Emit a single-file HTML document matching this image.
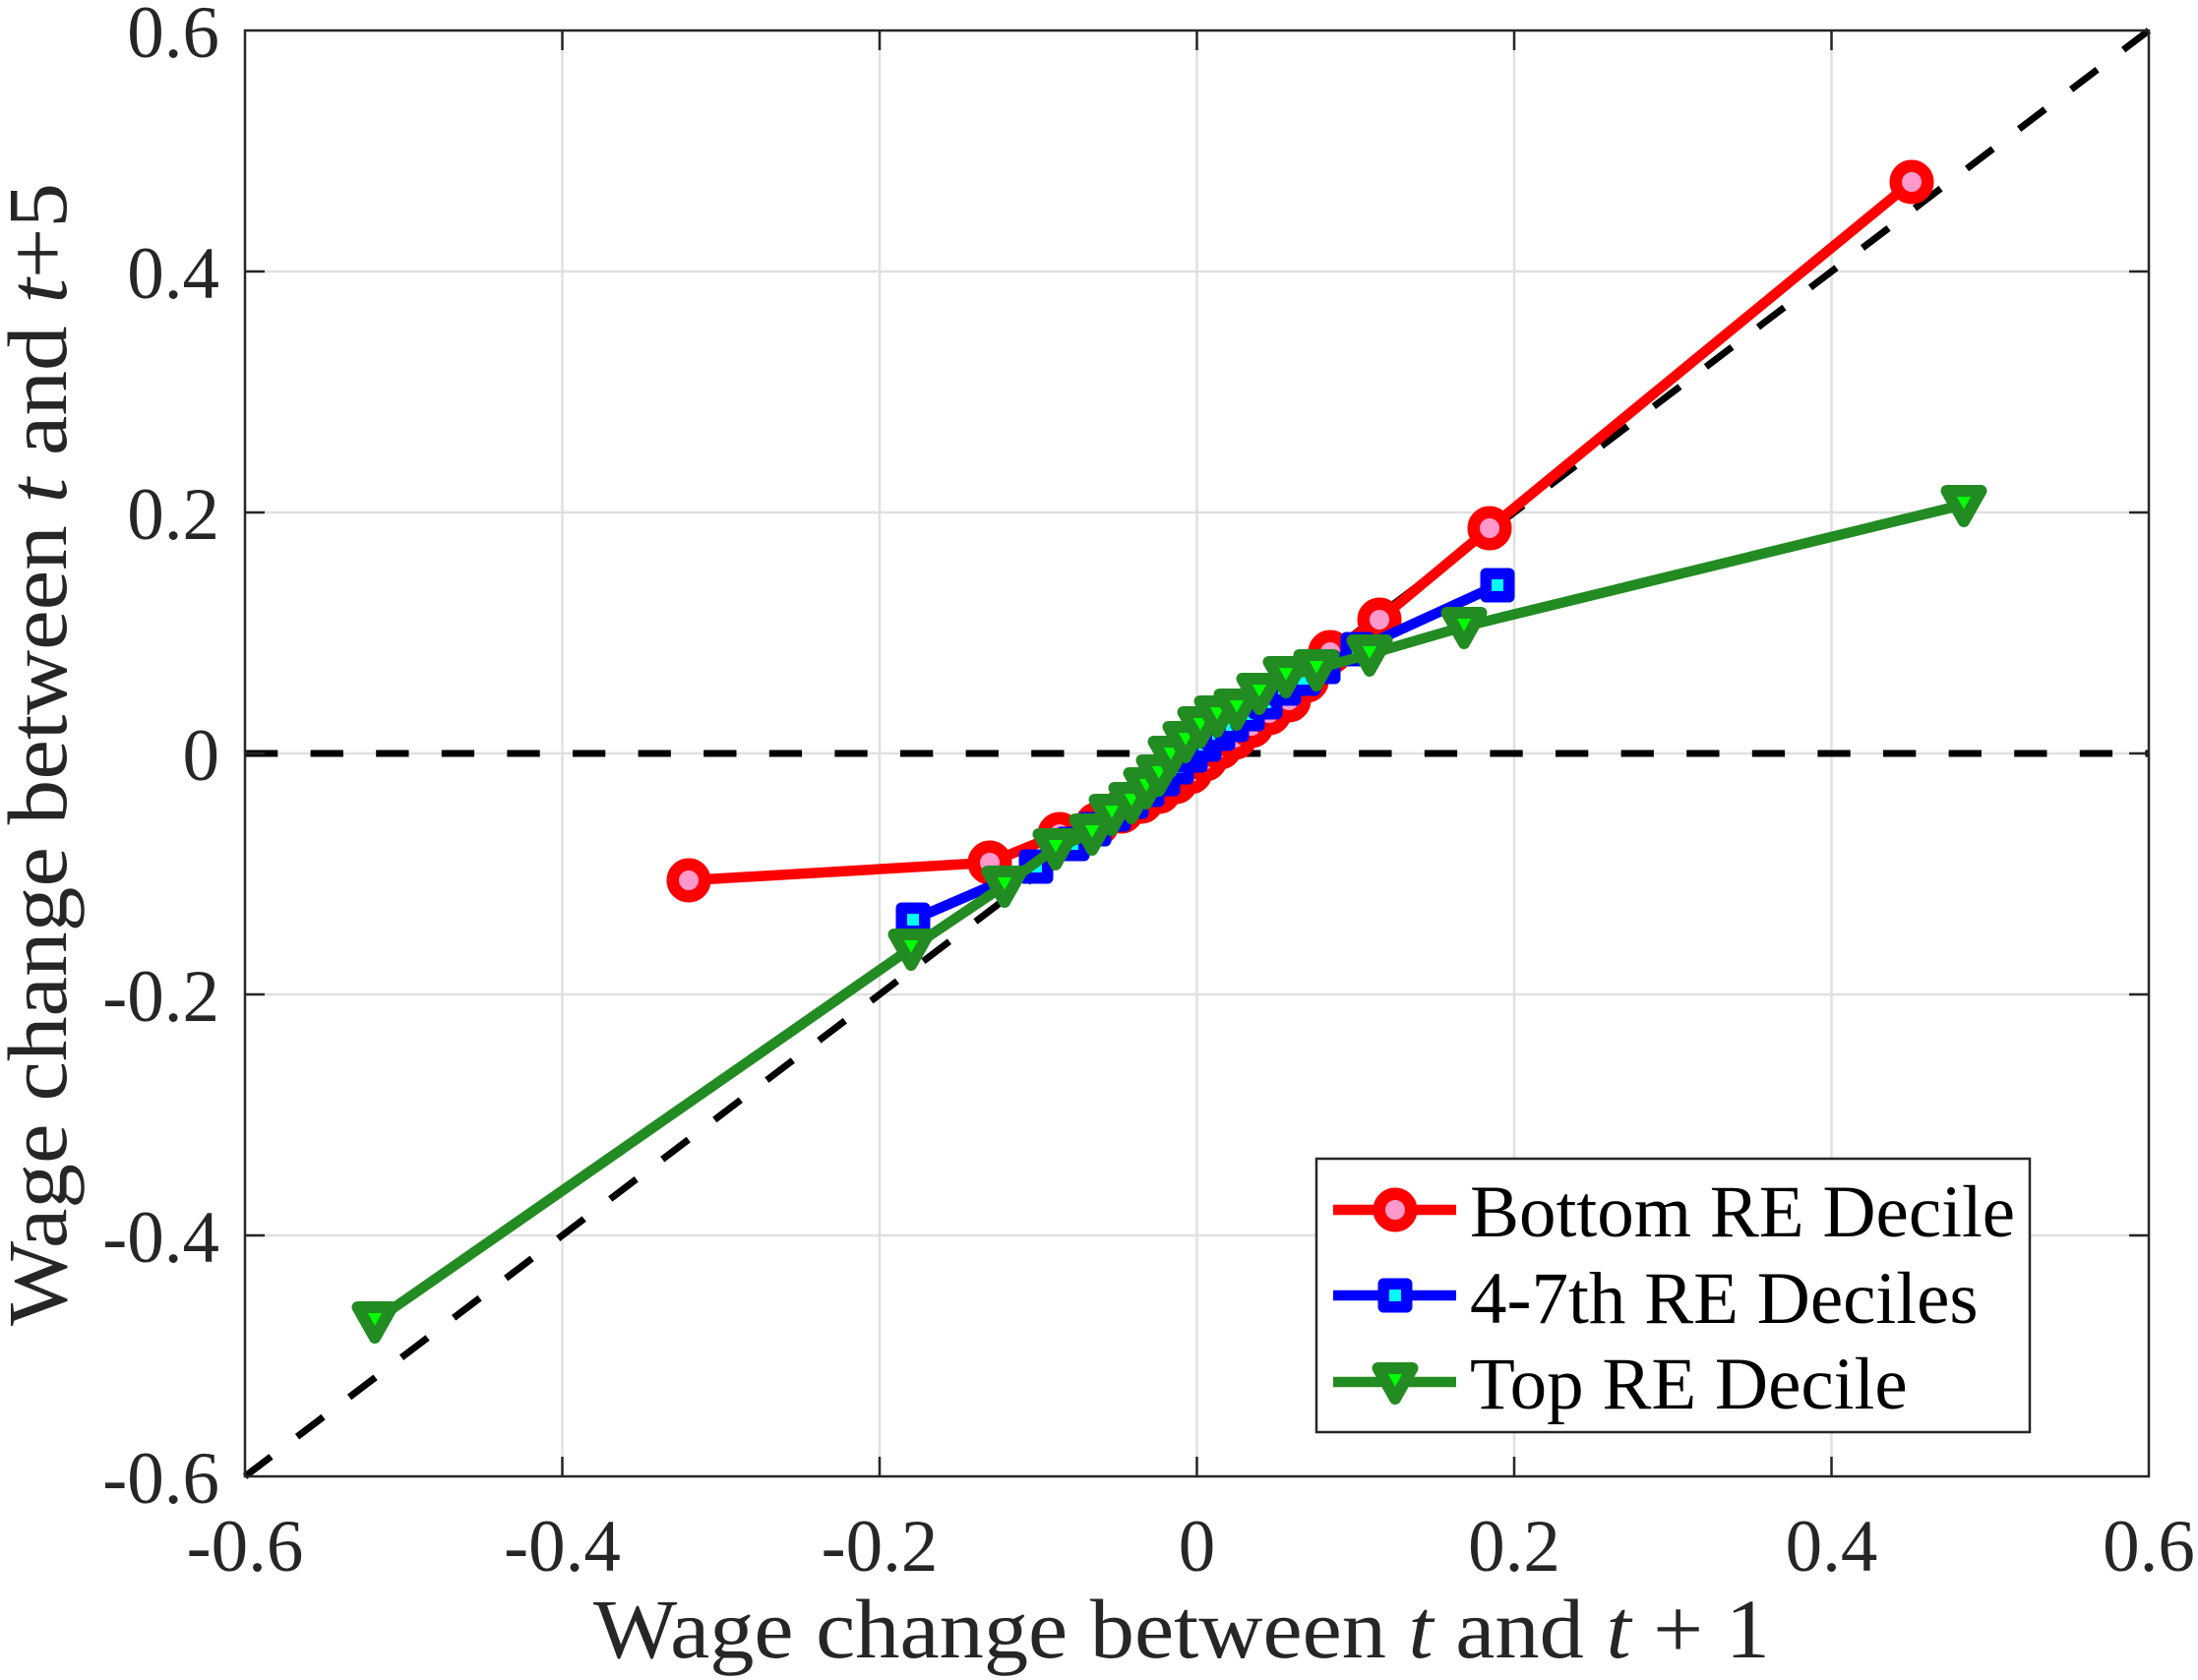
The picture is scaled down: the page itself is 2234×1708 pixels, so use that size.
<!DOCTYPE html>
<html>
<head>
<meta charset="utf-8">
<style>
html,body{margin:0;padding:0;background:#fff;}
svg{display:block;}
text{font-family:"Liberation Serif","DejaVu Serif",serif;}
</style>
</head>
<body>
<svg width="2234" height="1708" viewBox="0 0 2234 1708" xmlns="http://www.w3.org/2000/svg">
<defs>
  <circle id="mc" cx="0" cy="0" r="16.25" fill="#ff99cc" stroke="#ff0000" stroke-width="12.5"/>
  <rect id="ms" x="-11.75" y="-11.75" width="23.5" height="23.5" fill="#00ffff" stroke="#0000ff" stroke-width="11.5" stroke-linejoin="round"/>
  <path id="mt" d="M-17.5,-14 L17.5,-14 L0,17 Z" fill="#00ff00" stroke="#228b22" stroke-width="12" stroke-linejoin="round"/>
</defs>
<rect width="2234" height="1708" fill="#fff"/>

<!-- grid -->
<g stroke="#e0e0e0" stroke-width="2.5">
  <line x1="571.5" y1="31" x2="571.5" y2="1501"/>
  <line x1="894" y1="31" x2="894" y2="1501"/>
  <line x1="1216.5" y1="31" x2="1216.5" y2="1501"/>
  <line x1="1539" y1="31" x2="1539" y2="1501"/>
  <line x1="1861.5" y1="31" x2="1861.5" y2="1501"/>
  <line x1="249" y1="276" x2="2184" y2="276"/>
  <line x1="249" y1="521" x2="2184" y2="521"/>
  <line x1="249" y1="766" x2="2184" y2="766"/>
  <line x1="249" y1="1011" x2="2184" y2="1011"/>
  <line x1="249" y1="1256" x2="2184" y2="1256"/>
</g>

<!-- dashed reference lines -->
<g stroke="#000" stroke-width="7" stroke-dasharray="33.3 33.3" fill="none">
  <line x1="249" y1="1501" x2="2184" y2="31"/>
  <line x1="249" y1="766" x2="2184" y2="766"/>
</g>

<!-- red series -->
<polyline fill="none" stroke="#ff0000" stroke-width="10.5" stroke-linejoin="round" points="700,895 1006,877 1077,848 1115,838 1140,825 1160,815 1178,805 1195,795 1210,785 1225,772 1240,760 1255,750 1272,738 1290,725 1310,712 1328,692 1352,663 1402,630 1514,537 1943,185"/>
<g>
  <use href="#mc" x="700" y="895"/><use href="#mc" x="1006" y="877"/><use href="#mc" x="1077" y="848"/>
  <use href="#mc" x="1115" y="838"/><use href="#mc" x="1140" y="825"/><use href="#mc" x="1160" y="815"/>
  <use href="#mc" x="1178" y="805"/><use href="#mc" x="1195" y="795"/><use href="#mc" x="1210" y="785"/>
  <use href="#mc" x="1225" y="772"/><use href="#mc" x="1240" y="760"/><use href="#mc" x="1255" y="750"/>
  <use href="#mc" x="1272" y="738"/><use href="#mc" x="1290" y="725"/><use href="#mc" x="1310" y="712"/>
  <use href="#mc" x="1328" y="692"/><use href="#mc" x="1352" y="663"/><use href="#mc" x="1402" y="630"/>
  <use href="#mc" x="1514" y="537"/><use href="#mc" x="1943" y="185"/>
</g>

<!-- blue series -->
<polyline fill="none" stroke="#0000ff" stroke-width="10.5" stroke-linejoin="round" points="928,935 1053,881 1090,858 1112,843 1132,828 1150,815 1166,803 1182,792 1196,780 1210,768 1224,757 1238,746 1252,737 1268,726 1286,714 1305,700 1325,690 1345,678 1380,660 1522,595"/>
<g>
  <use href="#ms" x="928" y="935"/><use href="#ms" x="1053" y="881"/><use href="#ms" x="1090" y="858"/>
  <use href="#ms" x="1112" y="843"/><use href="#ms" x="1132" y="828"/><use href="#ms" x="1150" y="815"/>
  <use href="#ms" x="1166" y="803"/><use href="#ms" x="1182" y="792"/><use href="#ms" x="1196" y="780"/>
  <use href="#ms" x="1210" y="768"/><use href="#ms" x="1224" y="757"/><use href="#ms" x="1238" y="746"/>
  <use href="#ms" x="1252" y="737"/><use href="#ms" x="1268" y="726"/><use href="#ms" x="1286" y="714"/>
  <use href="#ms" x="1305" y="700"/><use href="#ms" x="1325" y="690"/><use href="#ms" x="1345" y="678"/>
  <use href="#ms" x="1380" y="660"/><use href="#ms" x="1522" y="595"/>
</g>

<!-- green series -->
<polyline fill="none" stroke="#228b22" stroke-width="10.5" stroke-linejoin="round" points="381,1343 926,964 1021,900 1073,862 1110,847 1130,827 1150,815 1165,800 1178,787 1190,768 1205,753 1220,738 1237,727 1257,720 1280,704 1307,687 1338,680 1392,665 1488,637 1996,513"/>
<g>
  <use href="#mt" x="381" y="1343"/><use href="#mt" x="926" y="964"/><use href="#mt" x="1021" y="900"/>
  <use href="#mt" x="1073" y="862"/><use href="#mt" x="1110" y="847"/><use href="#mt" x="1130" y="827"/>
  <use href="#mt" x="1150" y="815"/><use href="#mt" x="1165" y="800"/><use href="#mt" x="1178" y="787"/>
  <use href="#mt" x="1190" y="768"/><use href="#mt" x="1205" y="753"/><use href="#mt" x="1220" y="738"/>
  <use href="#mt" x="1237" y="727"/><use href="#mt" x="1257" y="720"/><use href="#mt" x="1280" y="704"/>
  <use href="#mt" x="1307" y="687"/><use href="#mt" x="1338" y="680"/><use href="#mt" x="1392" y="665"/>
  <use href="#mt" x="1488" y="637"/><use href="#mt" x="1996" y="513"/>
</g>

<!-- axes box & ticks -->
<g stroke="#262626" stroke-width="2.5" fill="none">
  <rect x="249" y="31" width="1935" height="1470"/>
  <!-- bottom & top ticks -->
  <path d="M571.5,1501v-20 M894,1501v-20 M1216.5,1501v-20 M1539,1501v-20 M1861.5,1501v-20
           M571.5,31v20 M894,31v20 M1216.5,31v20 M1539,31v20 M1861.5,31v20"/>
  <!-- left & right ticks -->
  <path d="M249,276h20 M249,521h20 M249,766h20 M249,1011h20 M249,1256h20
           M2184,276h-20 M2184,521h-20 M2184,766h-20 M2184,1011h-20 M2184,1256h-20"/>
</g>

<!-- y tick labels -->
<g font-size="75" fill="#262626" text-anchor="end">
  <text x="223" y="58">0.6</text>
  <text x="223" y="303">0.4</text>
  <text x="223" y="548">0.2</text>
  <text x="223" y="793">0</text>
  <text x="223" y="1038">-0.2</text>
  <text x="223" y="1283">-0.4</text>
  <text x="223" y="1528">-0.6</text>
</g>

<!-- x tick labels -->
<g font-size="75" fill="#262626" text-anchor="middle">
  <text x="249" y="1597">-0.6</text>
  <text x="571.5" y="1597">-0.4</text>
  <text x="894" y="1597">-0.2</text>
  <text x="1216.5" y="1597">0</text>
  <text x="1539" y="1597">0.2</text>
  <text x="1861.5" y="1597">0.4</text>
  <text x="2184" y="1597">0.6</text>
</g>

<!-- axis labels -->
<text x="603" y="1685" font-size="86" fill="#262626" textLength="1196" lengthAdjust="spacingAndGlyphs">Wage change between <tspan font-style="italic">t</tspan> and <tspan font-style="italic">t</tspan> + 1</text>
<g transform="translate(67,1348) rotate(-90)">
  <text x="0" y="0" font-size="86" fill="#262626" textLength="1162" lengthAdjust="spacingAndGlyphs">Wage change between <tspan font-style="italic">t</tspan> and <tspan font-style="italic">t</tspan>+5</text>
</g>

<!-- legend -->
<rect x="1338" y="1178" width="725" height="278" fill="#fff" stroke="#262626" stroke-width="2.5"/>
<g stroke-width="10.5">
  <line x1="1355" y1="1230" x2="1480" y2="1230" stroke="#ff0000"/>
  <line x1="1355" y1="1317" x2="1480" y2="1317" stroke="#0000ff"/>
  <line x1="1355" y1="1405" x2="1480" y2="1405" stroke="#228b22"/>
</g>
<use href="#mc" x="1418" y="1230"/>
<use href="#ms" x="1418" y="1317"/>
<use href="#mt" x="1418" y="1405"/>
<g font-size="75" fill="#000">
  <text x="1494" y="1257">Bottom RE Decile</text>
  <text x="1494" y="1345">4-7th RE Deciles</text>
  <text x="1494" y="1432">Top RE Decile</text>
</g>
</svg>
</body>
</html>
